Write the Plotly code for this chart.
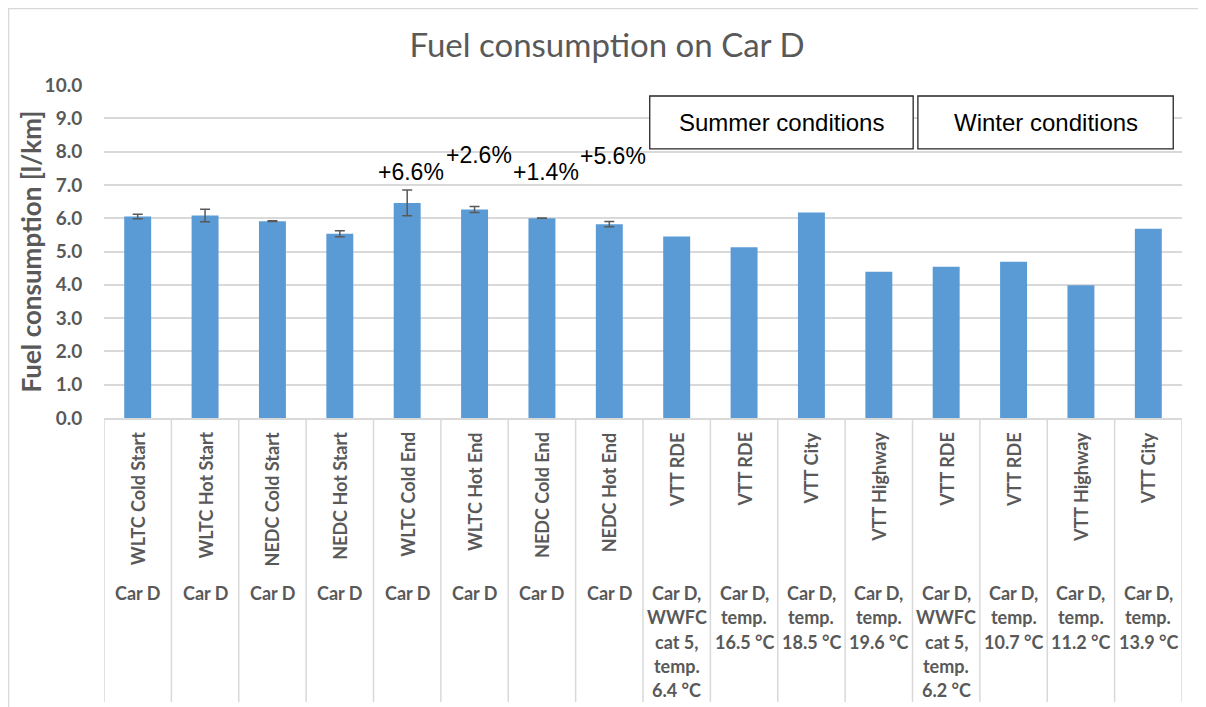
import plotly.graph_objects as go

# ---------------- data ----------------
test_names = ["WLTC Cold Start", "WLTC Hot Start", "NEDC Cold Start", "NEDC Hot Start",
              "WLTC Cold End", "WLTC Hot End", "NEDC Cold End", "NEDC Hot End",
              "VTT RDE", "VTT RDE", "VTT City", "VTT Highway",
              "VTT RDE", "VTT RDE", "VTT Highway", "VTT City"]
conditions = ["Car D"] * 8 + [
    "Car D,<br>WWFC<br>cat 5,<br>temp.<br>6.4 °C",
    "Car D,<br>temp.<br>16.5 °C",
    "Car D,<br>temp.<br>18.5 °C",
    "Car D,<br>temp.<br>19.6 °C",
    "Car D,<br>WWFC<br>cat 5,<br>temp.<br>6.2 °C",
    "Car D,<br>temp.<br>10.7 °C",
    "Car D,<br>temp.<br>11.2 °C",
    "Car D,<br>temp.<br>13.9 °C",
]
fuel_values = [6.05, 6.08, 5.91, 5.53, 6.46, 6.26, 6.00, 5.82,
               5.45, 5.13, 6.17, 4.39, 4.54, 4.69, 3.99, 5.68]
fuel_errors = [0.07, 0.19, 0.01, 0.09, 0.39, 0.09, 0.005, 0.08,
               None, None, None, None, None, None, None, None]
pct_labels = ["+6.6%", "+2.6%", "+1.4%", "+5.6%"]
pct_index = [4, 5, 6, 7]
y_ticks = [0, 1, 2, 3, 4, 5, 6, 7, 8, 9, 10]
group_labels = ["Summer conditions", "Winter conditions"]

# ---------------- style ----------------
GRAY = "#595959"
GRID = "#d9d9d9"
BAR = "#5B9BD5"
LABEL_FONT = "Lato"
ARIAL = "Liberation Sans"

# page body has an 8px margin, so the figure is shifted by 8px
W, H = 1198, 699
ML, MR, MT, MB = 96, 24, 77, 289
plot_h = H - MT - MB
plot_w = W - ML - MR

x_idx = list(range(len(test_names)))

err_x = [i for i in x_idx if fuel_errors[i] is not None]
noerr_x = [i for i in x_idx if fuel_errors[i] is None]

fig = go.Figure()
fig.add_trace(go.Bar(
    x=err_x, y=[fuel_values[i] for i in err_x], width=0.4,
    marker=dict(color=BAR, line=dict(width=0)),
    error_y=dict(type="data", array=[fuel_errors[i] for i in err_x], visible=True,
                 color=GRAY, thickness=1.5, width=5),
    showlegend=False,
))
fig.add_trace(go.Bar(
    x=noerr_x, y=[fuel_values[i] for i in noerr_x], width=0.4,
    marker=dict(color=BAR, line=dict(width=0)),
    showlegend=False,
))

annotations = []
shapes = []

# rotated first-level category labels
for i, name in enumerate(test_names):
    annotations.append(dict(
        x=i, y=0, xref="x", yref="paper", yshift=-12,
        text=name, textangle=-90, showarrow=False,
        xanchor="center", yanchor="top",
        font=dict(family=LABEL_FONT, size=18, color=GRAY, weight="bold"),
    ))

# second-level labels (each line placed separately)
for i, cond in enumerate(conditions):
    for k, line in enumerate(cond.split("<br>")):
        annotations.append(dict(
            x=i, y=0, xref="x", yref="paper", yshift=-(175 + 24.3 * k),
            text=line, showarrow=False, xanchor="center", yanchor="middle",
            font=dict(family=LABEL_FONT, size=18, color=GRAY, weight="bold"),
        ))

# category separators
sep_bottom = -(694 - (H - MB)) / plot_h
for i in range(len(test_names) + 1):
    shapes.append(dict(type="line", xref="x", yref="paper",
                       x0=i - 0.5, x1=i - 0.5, y0=0, y1=sep_bottom,
                       line=dict(color=GRID, width=1.5)))

# percentage labels
pct_y = [7.39, 7.9, 7.39, 7.87]
for idx, lab, yy in zip(pct_index, pct_labels, pct_y):
    annotations.append(dict(
        x=idx, y=yy, xref="x", yref="y", xshift=4, text=lab, showarrow=False,
        xanchor="center", yanchor="middle",
        font=dict(family=ARIAL, size=23, color="black"),
    ))

# condition group boxes
box_x = [(7.60, 11.51), (11.58, 15.37)]
box_y = (8.08, 9.67)
for (x0, x1), lab in zip(box_x, group_labels):
    shapes.append(dict(type="rect", xref="x", yref="y", x0=x0, x1=x1,
                       y0=box_y[0], y1=box_y[1],
                       line=dict(color="#262626", width=1.3), fillcolor="white",
                       layer="above"))
    annotations.append(dict(
        x=(x0 + x1) / 2, y=(box_y[0] + box_y[1]) / 2, xref="x", yref="y",
        text=lab, showarrow=False, xanchor="center", yanchor="middle",
        font=dict(family=ARIAL, size=24, color="black"),
    ))

# y axis title
annotations.append(dict(
    x=0, y=0.5, xref="paper", yref="paper", xshift=-(ML - 22), yshift=0,
    text="Fuel consumption [l/km]", textangle=-90, showarrow=False,
    xanchor="center", yanchor="middle",
    font=dict(family=LABEL_FONT, size=26, color=GRAY, weight="bold"),
))

# outer chart border
shapes.append(dict(type="rect", xref="paper", yref="paper",
                   x0=(0.7 - ML) / plot_w, x1=(W + 10 - ML) / plot_w,
                   y0=-(H + 10 - (H - MB)) / plot_h, y1=((H - MB) - 0.7) / plot_h,
                   line=dict(color=GRID, width=1.3), fillcolor="rgba(0,0,0,0)"))

fig.update_layout(
    width=W, height=H,
    margin=dict(l=ML, r=MR, t=MT, b=MB),
    paper_bgcolor="white", plot_bgcolor="white",
    title=dict(text="Fuel consumption on Car D", x=(607 - 8) / W, xanchor="center",
               y=1 - 37 / H, yanchor="middle",
               font=dict(family=LABEL_FONT, size=33, color=GRAY)),
    xaxis=dict(range=[-0.5, len(test_names) - 0.5], showticklabels=False,
               showgrid=False, zeroline=False, showline=True,
               linecolor=GRID, linewidth=1.5, ticks=""),
    yaxis=dict(range=[0, 10], tickvals=y_ticks, tickformat=".1f",
               showgrid=True, gridcolor=GRID, gridwidth=1.5,
               zeroline=False, showline=False,
               ticks="outside", ticklen=17, tickcolor="rgba(0,0,0,0)",
               tickfont=dict(family=LABEL_FONT, size=19, color=GRAY, weight="bold")),
    annotations=annotations,
    shapes=shapes,
    bargap=0.6,
    barmode="overlay",
)

fig.write_html("out.html")
